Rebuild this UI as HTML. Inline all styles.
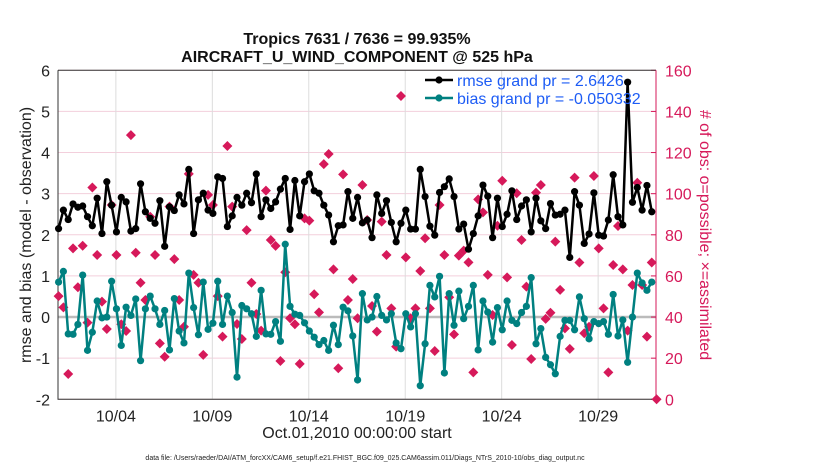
<!DOCTYPE html>
<html><head><meta charset="utf-8"><style>
body{margin:0;background:#fff;}
svg{display:block;font-family:"Liberation Sans",Arial,sans-serif;}
</style></head><body>
<svg id="chart" width="830" height="470" viewBox="0 0 830 470">
<rect width="830" height="470" fill="#fff"/>
<g id="grid"></g><g id="axes"></g><g id="marks"></g>
</svg>
<script>
const rmseValues=[2.15,2.6,2.37,2.75,2.67,2.7,2.44,2.22,2.89,2.03,3.29,2.72,2.07,2.91,2.8,2.09,2.15,3.24,2.56,2.4,2.28,2.83,1.72,2.68,2.59,2.97,2.75,3.59,2.03,2.85,3.01,2.6,2.52,3.41,3.37,2.2,2.46,2.91,2.72,3.01,2.78,3.48,2.44,
2.85,2.64,2.8,3.11,3.37,2.13,3.32,2.46,3.29,3.48,3.07,3.01,2.72,2.48,1.83,2.22,2.24,3.05,2.4,2.91,2.29,2.36,1.93,2.97,2.52,2.83,2.3,1.83,2.28,2.6,2.14,2.14,3.59,2.93,2.21,1.99,3.03,3.17,3.36,2.93,
2.14,2.26,1.65,2.03,2.46,3.21,2.94,1.93,2.89,2.2,2.5,3.07,2.37,2.7,2.85,2.07,2.89,2.34,2.15,2.76,2.48,2.5,2.6,1.45,3.05,2.72,1.79,2.02,3.02,1.99,1.97,2.36,3.46,2.44,2.24,5.71,2.79,3.15,2.6,3.2,2.56];
const biasValues=[0.85,1.11,-0.41,-0.42,-0.18,1.02,-0.81,-0.37,0.39,-0.02,0.0,0.87,0.2,-0.69,0.24,0.04,0.44,-1.06,0.2,0.51,0.2,-0.18,0.16,-0.8,0.45,-0.34,-0.63,1.07,0.23,-0.43,0.85,-0.3,-0.15,0.87,-0.18,0.51,0.11,-1.46,0.28,0.2,0.08,-0.47,0.65,
-0.41,-0.42,-0.11,-0.59,1.77,0.26,0.07,0.04,-0.14,-0.34,-0.49,-0.67,-0.57,-0.81,-0.2,-0.67,0.24,0.15,-0.46,-1.53,0.57,-0.07,0.0,0.5,0.04,-0.07,0.08,-0.63,-0.77,0.08,-0.24,0.08,-1.67,-0.65,0.77,0.49,0.99,-1.36,0.57,-0.2,
0.63,-0.04,0.26,0.77,-0.8,0.39,0.12,-0.61,0.23,-0.31,0.39,-0.08,-0.16,0.11,0.26,0.96,-0.65,-0.28,-0.98,-1.16,-1.38,-0.47,-0.08,-0.08,-0.31,0.49,-0.04,-0.53,-0.11,-0.16,-0.11,-0.42,0.55,-0.46,-0.07,-1.1,0.0,1.07,0.83,0.65,0.85];
const obsCounts=[50.2,44.7,12.3,73.4,54.5,74.7,37.3,103,70.2,47.5,34.2,94.5,70.2,36.5,33.2,128.5,71.3,56.7,48.3,88.8,70.2,27.2,20.7,93.7,68.2,48.3,35.3,109.6,60.5,56.7,21.6,99.4,94.5,50.2,30.5,123.2,93.7,36.6,29.3,82.3,56.7,41.5,33.4,
101.5,77.5,74.6,18.6,61.8,39.4,36.5,17.2,88,86.9,51.1,42.3,114.4,119.3,63.2,15.1,109.4,48.3,58.5,39.4,104.2,87.2,45.4,32.9,86.4,70.2,44.2,25.6,147.5,69,39.4,44.2,62.4,78.3,44.2,23.5,94.5,70.2,49.6,31.6,
69.9,72.3,66.6,13.1,97.2,90.9,60.5,41,84.4,106.3,59.3,26.4,100.2,77.5,54.8,19.6,100.5,104.2,39.1,42.1,76.7,53.2,34.5,24.5,107.8,66.5,32.1,35.3,108.6,73.4,44.2,13.1,65.3,84.3,63.2,33.4,55.6,105.3,55.6,30.5,66.5,0];
const xTickDays=[3,8,13,18,23,28];
const xTickLabels=["10/04","10/09","10/14","10/19","10/24","10/29"];
const yLeftTicks=[-2,-1,0,1,2,3,4,5,6];
const yRightTicks=[0,20,40,60,80,100,120,140,160];

const L=58,R=656,T=70.3,B=399.3;
const xS=d=>L+(R-L)*d/31;
const yS=v=>B-(B-T)*(v+2)/8;
const yR=v=>B-(B-T)*v/160;
const tOf=i=>0.03+0.25*i;
const NS="http://www.w3.org/2000/svg";
function mk(tag,attrs,parent,txt){const e=document.createElementNS(NS,tag);for(const k in attrs)e.setAttribute(k,attrs[k]);if(txt!==undefined)e.textContent=txt;parent.appendChild(e);return e;}
const grid=document.getElementById('grid'),axes=document.getElementById('axes'),marks=document.getElementById('marks');

yLeftTicks.forEach(v=>{const g=mk('line',{x1:L,x2:R,y1:yS(v),y2:yS(v),stroke:'#f3cfdc','stroke-width':1},grid);


const t=mk('text',{x:L-8,y:yS(v)+6,'text-anchor':'end','font-size':16,fill:'#222'},axes,String(v));

});
xTickDays.forEach((d,k)=>{const g=mk('line',{x1:xS(d),x2:xS(d),y1:T,y2:B,stroke:'#dcdcdc','stroke-width':1},grid);


const t=mk('text',{x:xS(d),y:B+22,'text-anchor':'middle','font-size':16,fill:'#222'},axes,xTickLabels[k]);

});
yRightTicks.forEach(v=>{const tk=mk('line',{x1:R-5,x2:R,y1:yR(v),y2:yR(v),stroke:'#d6195a','stroke-width':1},axes);


const t=mk('text',{x:R+9,y:yR(v)+6,'font-size':16,fill:'#d6195a'},axes,String(v));

});

const zl=mk('line',{x1:L,x2:R,y1:yS(0),y2:yS(0),stroke:'#bbbbbb','stroke-width':2.5},grid);



const frame=mk('path',{d:`M${L},${T}V${B}H${R}M${L},${T}H${R}`,fill:'none',stroke:'#333','stroke-width':1},axes);


const rs=mk('line',{x1:R,x2:R,y1:T,y2:B,stroke:'#d6195a','stroke-width':1},axes);



obsCounts.forEach((c,i)=>{const x=xS(tOf(i)),y=yR(c);
const d=mk('path',{d:`M${x},${y-5}L${x+5},${y}L${x},${y+5}L${x-5},${y}Z`,fill:'#d6195a'},marks);

});

function series(vals,color,name){
const pts=vals.map((v,i)=>xS(tOf(i)).toFixed(1)+','+yS(v).toFixed(1)).join(' ');
const pl=mk('polyline',{points:pts,fill:'none',stroke:color,'stroke-width':2.5,'stroke-linejoin':'round'},marks);


vals.forEach((v,i)=>{const c=mk('circle',{cx:xS(tOf(i)),cy:yS(v),r:3.6,fill:color},marks);

});}
series(biasValues,'#008080','bias');
series(rmseValues,'#000000','rmse');

const lg=mk('g',{},marks);


[['#000','rmse grand pr = 2.6426',85],['#008080','bias grand pr = -0.050332',103]].forEach(([c,s,y])=>{
mk('line',{x1:425,x2:453,y1:y-5,y2:y-5,stroke:c,'stroke-width':2.5},lg);
mk('circle',{cx:439,cy:y-5,r:3.6,fill:c},lg);
const t=mk('text',{x:457,y:y+1,'font-size':16,fill:'#1d5cf5'},lg,s);

});
</script>
<div style="position:absolute;left:0;top:0;width:830px;height:470px;pointer-events:none;font-family:'Liberation Sans',Arial,sans-serif;">
<div style="position:absolute;left:157px;width:400px;top:31px;text-align:center;font-weight:bold;font-size:16px;line-height:18px;color:#111;">Tropics 7631 / 7636 = 99.935%<br>AIRCRAFT_U_WIND_COMPONENT @ 525 hPa</div>
<div style="position:absolute;left:157px;width:400px;top:425px;text-align:center;font-size:16px;color:#222;">Oct.01,2010 00:00:00 start</div>
<div style="position:absolute;left:100px;width:530px;top:455px;text-align:center;font-size:7px;color:#222;white-space:nowrap;">data file: /Users/raeder/DAI/ATM_forcXX/CAM6_setup/f.e21.FHIST_BGC.f09_025.CAM6assim.011/Diags_NTrS_2010-10/obs_diag_output.nc</div>
<div style="position:absolute;left:27px;top:235px;transform:translate(-50%,-50%) rotate(-90deg);white-space:nowrap;font-size:16px;color:#222;">rmse and bias (model - observation)</div>
<div style="position:absolute;left:704px;top:235px;transform:translate(-50%,-50%) rotate(90deg);white-space:nowrap;font-size:16px;color:#d6195a;"># of obs: o=possible; ×=assimilated</div>
</div>
</body></html>
